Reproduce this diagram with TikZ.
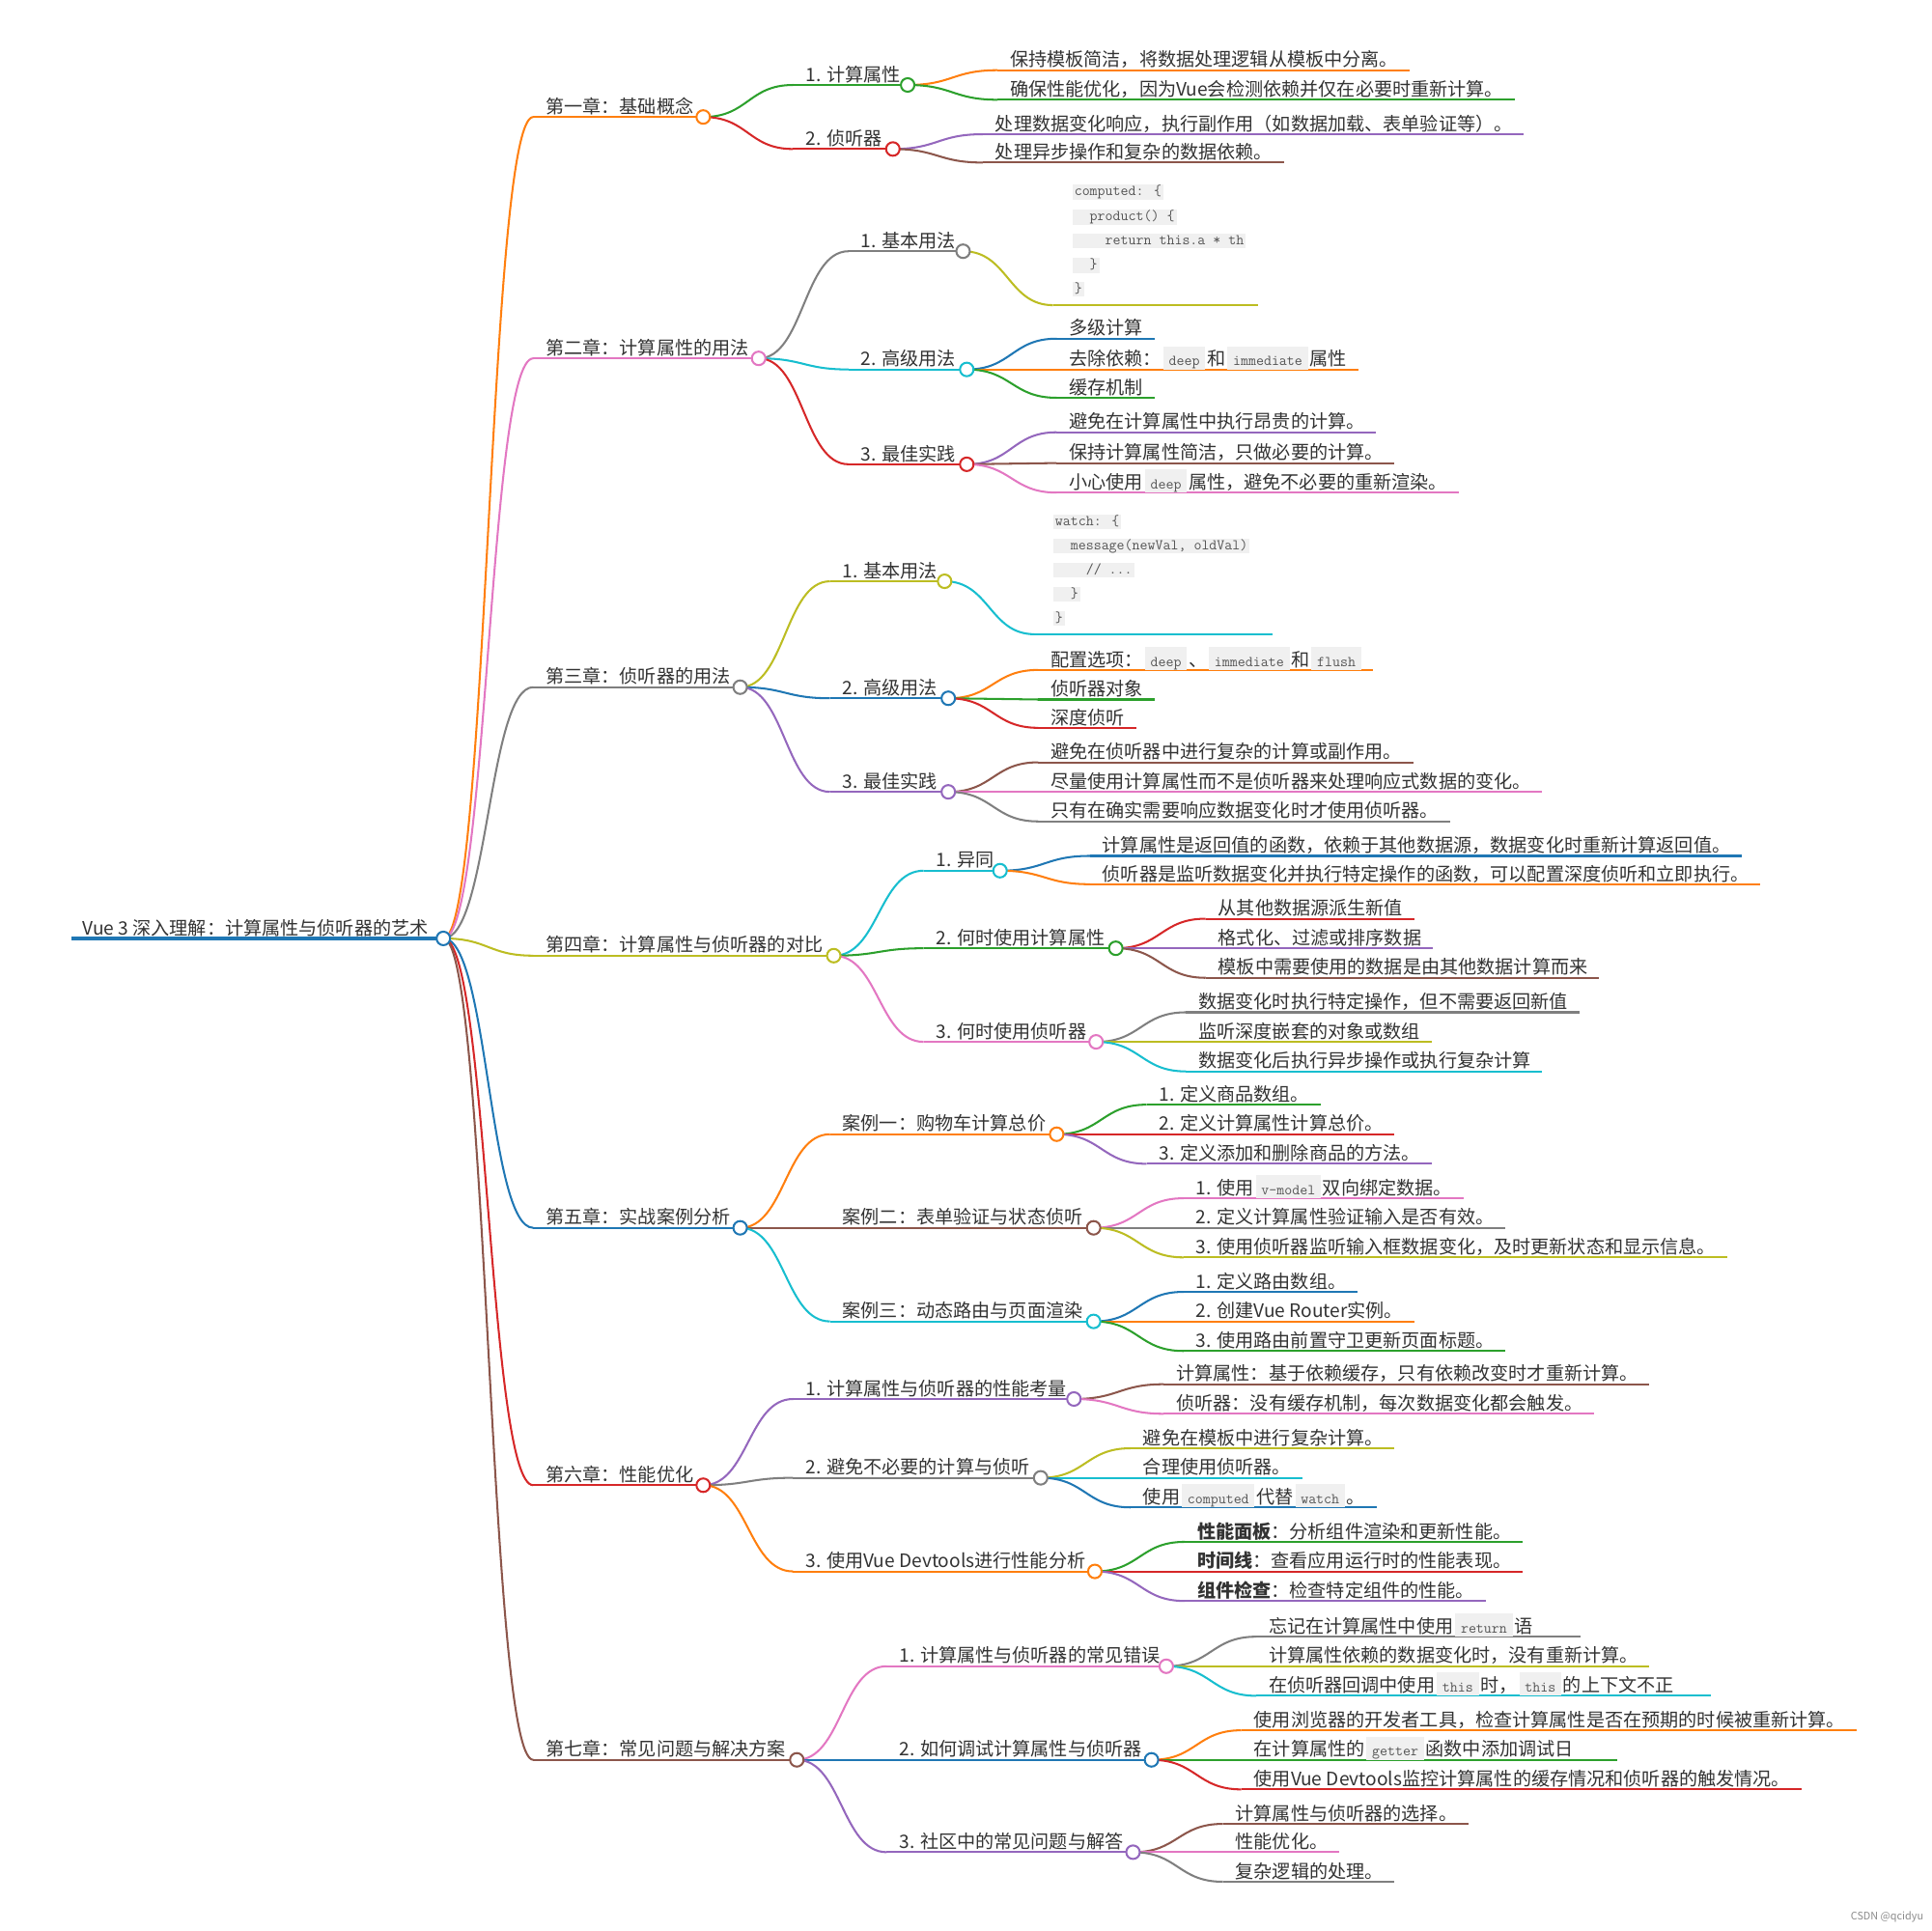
\documentclass[tikz,border=0pt]{standalone}
\usepackage{fontspec}
\setmainfont{Noto Sans CJK SC}
\usetikzlibrary{calc}
\definecolor{cBlue}{HTML}{1F77B4}
\definecolor{cOrange}{HTML}{FF7F0E}
\definecolor{cGreen}{HTML}{2CA02C}
\definecolor{cRed}{HTML}{D62728}
\definecolor{cPurple}{HTML}{9467BD}
\definecolor{cBrown}{HTML}{8C564B}
\definecolor{cPink}{HTML}{E377C2}
\definecolor{cGray}{HTML}{7F7F7F}
\definecolor{cOlive}{HTML}{BCBD22}
\definecolor{cCyan}{HTML}{17BECF}
\definecolor{codebg}{HTML}{F0F0F0}
\definecolor{txtc}{HTML}{333333}
\definecolor{codetxt}{HTML}{555555}
\pgfdeclarelayer{back}
\pgfdeclarelayer{lines}
\pgfsetlayers{back,lines,main}
\tikzset{
  mmtxt/.style={inner sep=0pt, text=txtc, font=\fontsize{15}{18}\selectfont},
  mmdot/.style={circle, fill=white, line width=1.6pt, minimum size=11pt, inner sep=0pt},
  mmline/.style={line width=1.6pt},
  codeline/.style={fill=codebg, inner xsep=1.6pt, inner ysep=0pt, text height=9pt, text depth=3.2pt, anchor=west, font=\fontsize{12.15}{14}\selectfont\ttfamily, text=codetxt},
}
\newcommand\ic[1]{\hspace{1.5pt}{\setlength{\fboxsep}{0pt}\colorbox{codebg}{\hspace{4.5pt}\rule[-3pt]{0pt}{18.8pt}{\fontsize{12.15}{14}\selectfont\ttfamily\color{codetxt}#1}\hspace{4.5pt}}}\hspace{1.5pt}}
\newcommand\mmlink[3]{\draw[mmline,#3] let \p1=(#1), \p2=(#2) in (\p1) .. controls ({(\x1+\x2)/2},\y1) and ({(\x1+\x2)/2},\y2) .. (\p2);}
% name parent color textx y circlex text
\newcommand\inode[7]{%
  \coordinate (#1s) at ({#4-10},#5);
  \node[mmtxt,anchor=base west] (#1) at (#4,{#5-3}) {#7};
  \node[mmdot,draw=#3] (#1c) at (#6,#5) {};
  \begin{pgfonlayer}{lines}
    \draw[mmline,#3] (#1s) -- (#1c.center);
    \mmlink{#2c.center}{#1s}{#3}
  \end{pgfonlayer}}
% [endx] name parent color textx y text
\newcommand\leaf[7][]{%
  \coordinate (#2s) at ({#5-10},#6);
  \node[mmtxt,anchor=base west] (#2) at (#5,{#6-3}) {#7};
  \ifx\relax#1\relax \coordinate (#2e) at ($(#2.base east |- #2s)+(9,0)$);
  \else \coordinate (#2e) at (#1,#6); \fi
  \begin{pgfonlayer}{lines}
    \draw[mmline,#4] (#2s) -- (#2e);
    \mmlink{#3c.center}{#2s}{#4}
  \end{pgfonlayer}}
\begin{document}
\begin{tikzpicture}[x=1pt,y=-1pt]
\begin{pgfonlayer}{back}\fill[white] (0,0) rectangle (1568,1568);\end{pgfonlayer}
\useasboundingbox (0,0) rectangle (1568,1568);

% root
\coordinate (Rs) at (58,762);
\node[mmtxt,anchor=base west] (R) at (67,759) {Vue 3 深入理解：计算属性与侦听器的艺术};
\node[mmdot,draw=cBlue] (Rc) at (360,762) {};
\begin{pgfonlayer}{lines}\draw[cBlue,line width=3pt] (Rs) -- (Rc.center);\end{pgfonlayer}

% chapters
\inode{C1}{R}{cOrange}{443}{95}{571}{第一章：基础概念}
\inode{C2}{R}{cPink}{443}{291}{616}{第二章：计算属性的用法}
\inode{C3}{R}{cGray}{443}{558}{601}{第三章：侦听器的用法}
\inode{C4}{R}{cOlive}{443}{776}{677}{第四章：计算属性与侦听器的对比}
\inode{C5}{R}{cBlue}{443}{997}{601}{第五章：实战案例分析}
\inode{C6}{R}{cRed}{443}{1206}{571}{第六章：性能优化}
\inode{C7}{R}{cBrown}{443}{1429}{647}{第七章：常见问题与解决方案}

% level 2
\inode{A11}{C1}{cGreen}{654}{69}{737}{1. 计算属性}
\inode{A12}{C1}{cRed}{654}{121}{725}{2. 侦听器}
\inode{A21}{C2}{cGray}{699}{204}{782}{1. 基本用法}
\inode{A22}{C2}{cCyan}{699}{300}{785}{2. 高级用法}
\inode{A23}{C2}{cRed}{699}{377}{785}{3. 最佳实践}
\inode{A31}{C3}{cOlive}{684}{472}{767}{1. 基本用法}
\inode{A32}{C3}{cBlue}{684}{567}{770}{2. 高级用法}
\inode{A33}{C3}{cPurple}{684}{643}{770}{3. 最佳实践}
\inode{A41}{C4}{cCyan}{760}{707}{812}{1. 异同}
\inode{A42}{C4}{cGreen}{760}{770}{906}{2. 何时使用计算属性}
\inode{A43}{C4}{cPink}{760}{846}{890}{3. 何时使用侦听器}
\inode{A51}{C5}{cOrange}{684}{921}{858}{案例一：购物车计算总价}
\inode{A52}{C5}{cBrown}{684}{997}{888}{案例二：表单验证与状态侦听}
\inode{A53}{C5}{cCyan}{684}{1073}{888}{案例三：动态路由与页面渲染}
\inode{A61}{C6}{cPurple}{654}{1136}{872}{1. 计算属性与侦听器的性能考量}
\inode{A62}{C6}{cGray}{654}{1200}{845}{2. 避免不必要的计算与侦听}
\inode{A63}{C6}{cOrange}{654}{1276}{889}{3. 使用Vue Devtools进行性能分析}
\inode{A71}{C7}{cPink}{730}{1353}{947}{1. 计算属性与侦听器的常见错误}
\inode{A72}{C7}{cBlue}{730}{1429}{935}{2. 如何调试计算属性与侦听器}
\inode{A73}{C7}{cPurple}{730}{1504}{920}{3. 社区中的常见问题与解答}

% leaves chapter 1
\leaf{L11a}{A11}{cOrange}{820}{57}{保持模板简洁，将数据处理逻辑从模板中分离。}
\leaf{L11b}{A11}{cGreen}{820}{81}{确保性能优化，因为Vue会检测依赖并仅在必要时重新计算。}
\leaf{L12a}{A12}{cPurple}{808}{109}{处理数据变化响应，执行副作用（如数据加载、表单验证等）。}
\leaf{L12b}{A12}{cBrown}{808}{132}{处理异步操作和复杂的数据依赖。}

% chapter 2 code block
\coordinate (B21s) at (855,247.8);
\coordinate (B21e) at (1021.7,247.8);
\begin{scope}
  \clip (860,140) rectangle (1013,260);
  \node[codeline] (B21l1) at (870.6,156.2) {computed: \{};
  \node[codeline] (B21l2) at (870.6,176.2) {\phantom{xx}product() \{};
  \node[codeline] (B21l3) at (870.6,195.5) {\phantom{xxxx}return this.a * th};
  \node[codeline] (B21l4) at (870.6,215.4) {\phantom{xx}\}};
  \node[codeline] (B21l5) at (870.6,234.8) {\}};
\end{scope}
\begin{pgfonlayer}{lines}
  \draw[mmline,cOlive] (B21s) -- (B21e);
  \mmlink{A21c.center}{B21s}{cOlive}
\end{pgfonlayer}

\leaf{L22a}{A22}{cBlue}{868}{275}{多级计算}
\leaf{L22b}{A22}{cOrange}{868}{300}{去除依赖：\ic{deep}和\ic{immediate}属性}
\leaf{L22c}{A22}{cGreen}{868}{323}{缓存机制}
\leaf{L23a}{A23}{cPurple}{868}{351}{避免在计算属性中执行昂贵的计算。}
\leaf{L23b}{A23}{cBrown}{868}{376}{保持计算属性简洁，只做必要的计算。}
\leaf{L23c}{A23}{cPink}{868}{400}{小心使用\ic{deep}属性，避免不必要的重新渲染。}

% chapter 3 code block
\coordinate (B31s) at (840,515);
\coordinate (B31e) at (1033,515);
\node[codeline] (B31l1) at (855,423.6) {watch: \{};
\node[codeline] (B31l2) at (855,443.2) {\phantom{xx}message(newVal, oldVal)};
\node[codeline] (B31l3) at (855,462.8) {\phantom{xxxx}// ...};
\node[codeline] (B31l4) at (855,482.4) {\phantom{xx}\}};
\node[codeline] (B31l5) at (855,502) {\}};
\begin{pgfonlayer}{lines}
  \draw[mmline,cCyan] (B31s) -- (B31e);
  \mmlink{A31c.center}{B31s}{cCyan}
\end{pgfonlayer}

\leaf{L32a}{A32}{cOrange}{853}{544}{配置选项：\ic{deep}、\ic{immediate}和\ic{flush}}
\leaf{L32b}{A32}{cGreen}{853}{568}{侦听器对象}
\leaf{L32c}{A32}{cRed}{853}{591}{深度侦听}
\leaf{L33a}{A33}{cBrown}{853}{619}{避免在侦听器中进行复杂的计算或副作用。}
\leaf{L33b}{A33}{cPink}{853}{643}{尽量使用计算属性而不是侦听器来处理响应式数据的变化。}
\leaf{L33c}{A33}{cGray}{853}{667}{只有在确实需要响应数据变化时才使用侦听器。}

% chapter 4
\leaf{L41a}{A41}{cBlue}{895}{695}{计算属性是返回值的函数，依赖于其他数据源，数据变化时重新计算返回值。}
\leaf{L41b}{A41}{cOrange}{895}{718}{侦听器是监听数据变化并执行特定操作的函数，可以配置深度侦听和立即执行。}
\leaf{L42a}{A42}{cRed}{989}{746}{从其他数据源派生新值}
\leaf{L42b}{A42}{cPurple}{989}{770}{格式化、过滤或排序数据}
\leaf{L42c}{A42}{cBrown}{989}{794}{模板中需要使用的数据是由其他数据计算而来}
\leaf{L43a}{A43}{cGray}{973}{822}{数据变化时执行特定操作，但不需要返回新值}
\leaf{L43b}{A43}{cOlive}{973}{846}{监听深度嵌套的对象或数组}
\leaf{L43c}{A43}{cCyan}{973}{870}{数据变化后执行异步操作或执行复杂计算}

% chapter 5
\leaf{L51a}{A51}{cGreen}{941}{897}{1. 定义商品数组。}
\leaf{L51b}{A51}{cRed}{941}{921}{2. 定义计算属性计算总价。}
\leaf{L51c}{A51}{cPurple}{941}{945}{3. 定义添加和删除商品的方法。}
\leaf{L52a}{A52}{cPink}{971}{973}{1. 使用\ic{v-model}双向绑定数据。}
\leaf{L52b}{A52}{cGray}{971}{997}{2. 定义计算属性验证输入是否有效。}
\leaf{L52c}{A52}{cOlive}{971}{1021}{3. 使用侦听器监听输入框数据变化，及时更新状态和显示信息。}
\leaf{L53a}{A53}{cBlue}{971}{1049}{1. 定义路由数组。}
\leaf{L53b}{A53}{cOrange}{971}{1073}{2. 创建Vue Router实例。}
\leaf{L53c}{A53}{cGreen}{971}{1097}{3. 使用路由前置守卫更新页面标题。}

% chapter 6
\leaf{L61a}{A61}{cBrown}{955}{1124}{计算属性：基于依赖缓存，只有依赖改变时才重新计算。}
\leaf{L61b}{A61}{cPink}{955}{1148}{侦听器：没有缓存机制，每次数据变化都会触发。}
\leaf{L62a}{A62}{cOlive}{928}{1176}{避免在模板中进行复杂计算。}
\leaf{L62b}{A62}{cCyan}{928}{1200}{合理使用侦听器。}
\leaf{L62c}{A62}{cBlue}{928}{1224}{使用\ic{computed}代替\ic{watch}。}
\leaf{L63a}{A63}{cGreen}{972}{1252}{\textbf{性能面板}：分析组件渲染和更新性能。}
\leaf{L63b}{A63}{cRed}{972}{1276}{\textbf{时间线}：查看应用运行时的性能表现。}
\leaf{L63c}{A63}{cPurple}{972}{1300}{\textbf{组件检查}：检查特定组件的性能。}

% chapter 7
\leaf[1283]{L71a}{A71}{cGray}{1030}{1329}{忘记在计算属性中使用\ic{return}语}
\leaf{L71b}{A71}{cOlive}{1030}{1353}{计算属性依赖的数据变化时，没有重新计算。}
\leaf[1389]{L71c}{A71}{cCyan}{1030}{1377}{在侦听器回调中使用\ic{this}时，\ic{this}的上下文不正}
\leaf{L72a}{A72}{cOrange}{1018}{1405}{使用浏览器的开发者工具，检查计算属性是否在预期的时候被重新计算。}
\leaf[1313]{L72b}{A72}{cGreen}{1018}{1429}{在计算属性的\ic{getter}函数中添加调试日}
\leaf{L72c}{A72}{cRed}{1018}{1453}{使用Vue Devtools监控计算属性的缓存情况和侦听器的触发情况。}
\leaf{L73a}{A73}{cBrown}{1003}{1481}{计算属性与侦听器的选择。}
\leaf{L73b}{A73}{cPink}{1003}{1504}{性能优化。}
\leaf{L73c}{A73}{cGray}{1003}{1528}{复杂逻辑的处理。}

% watermark
\node[inner sep=0pt, anchor=base east, text=black!45, font=\fontsize{8.5}{10}\selectfont] (wm) at (1562,1559) {CSDN @qcidyu};
\end{tikzpicture}
\end{document}
